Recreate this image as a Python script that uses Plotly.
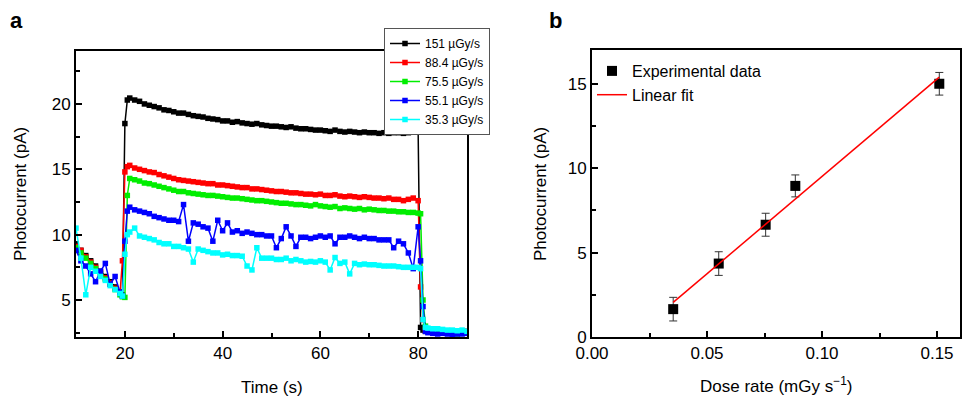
import plotly.graph_objects as go

# ---------------- Panel a data ----------------
time_s = [10, 11, 12, 13, 14, 15, 16, 17, 18, 19, 19.5, 20, 20.5,
          21, 22, 23, 24, 25, 26, 27, 28, 29, 30,
          31, 32, 33, 34, 35, 36, 37, 38, 39, 40,
          41, 42, 43, 44, 45, 46, 47, 48, 49, 50,
          51, 52, 53, 54, 55, 56, 57, 58, 59, 60,
          61, 62, 63, 64, 65, 66, 67, 68, 69, 70,
          71, 72, 73, 74, 75, 76, 77, 78, 79, 80,
          80.5, 81, 81.5, 82, 83, 84, 85, 86, 87, 88, 89, 90]

i_151 = [9.3, 8.8, 8.4, 8.0, 7.6, 7.2, 6.8, 6.4, 6.0, 5.6, 5.4, 18.5, 20.3,
         20.45, 20.3, 20.2, 20.0, 19.9, 19.8, 19.7, 19.55, 19.5, 19.4,
         19.3, 19.3, 19.2, 19.1, 19.05, 19.0, 18.9, 18.85, 18.8, 18.7,
         18.7, 18.6, 18.65, 18.55, 18.5, 18.45, 18.5, 18.4, 18.35, 18.3,
         18.3, 18.25, 18.2, 18.25, 18.15, 18.1, 18.1, 18.05, 18.0, 18.0,
         17.95, 17.9, 18.0, 17.9, 17.85, 17.9, 17.85, 17.8, 17.85, 17.8,
         17.8, 17.75, 17.8, 17.75, 17.8, 17.8, 17.75, 17.8, 17.85, 18.0,
         2.9, 2.7, 2.6, 2.6, 2.55, 2.6, 2.5, 2.55, 2.6, 2.5, 2.55, 2.6]

i_88 = [9.1, 8.8, 8.3, 7.9, 7.5, 7.1, 6.7, 6.3, 5.9, 5.5, 8.0, 14.8, 15.2,
        15.3, 15.1, 15.0, 14.9, 14.8, 14.75, 14.6, 14.5, 14.4, 14.3,
        14.2, 14.15, 14.1, 14.05, 14.0, 13.95, 13.9, 13.9, 13.8, 13.8,
        13.75, 13.7, 13.65, 13.6, 13.6, 13.5, 13.5, 13.45, 13.4, 13.35,
        13.3, 13.3, 13.25, 13.2, 13.2, 13.15, 13.1, 13.1, 13.05, 13.1,
        13.0, 13.0, 13.05, 12.95, 12.9, 12.95, 12.9, 12.85, 12.9, 12.85,
        12.8, 12.8, 12.75, 12.8, 12.7, 12.7, 12.6, 12.7, 12.8, 12.6,
        6.0, 3.5, 2.7, 2.6, 2.5, 2.55, 2.5, 2.45, 2.5, 2.55, 2.5, 2.5]

i_75 = [9.0, 8.6, 8.2, 7.8, 7.4, 7.0, 6.6, 6.2, 5.8, 5.4, 5.25, 5.2, 13.0,
        14.3, 14.2, 14.1, 13.95, 13.9, 13.8, 13.7, 13.6, 13.5, 13.4,
        13.3, 13.3, 13.2, 13.15, 13.1, 13.05, 13.0, 13.0, 12.95, 12.9,
        12.85, 12.8, 12.8, 12.75, 12.7, 12.65, 12.6, 12.6, 12.55, 12.5,
        12.45, 12.4, 12.4, 12.35, 12.3, 12.3, 12.25, 12.2, 12.3, 12.2,
        12.15, 12.1, 12.15, 12.0, 12.05, 12.0, 11.95, 12.0, 11.9, 11.95,
        11.9, 11.85, 11.85, 11.8, 11.8, 11.75, 11.75, 11.7, 11.7, 11.65,
        11.6, 5.0, 3.0, 2.7, 2.6, 2.55, 2.5, 2.45, 2.5, 2.4, 2.45, 2.5]

i_55 = [8.8, 8.0, 7.6, 7.0, 6.4, 7.2, 7.8, 6.2, 6.8, 5.6, 5.3, 9.5, 11.8,
        12.1, 11.9, 11.8, 11.7, 11.6, 11.4, 11.3, 11.2, 11.1, 11.1,
        11.0, 12.3, 9.5, 10.9, 10.8, 10.6, 10.5, 9.5, 11.1, 10.3,
        10.9, 10.2, 10.3, 10.1, 10.2, 10.1, 10.0, 10.0, 9.9, 9.9,
        9.0, 9.7, 10.6, 9.9, 9.1, 9.8, 9.8, 9.7, 9.8, 9.9,
        9.8, 9.9, 9.3, 9.8, 9.8, 9.9, 9.8, 9.7, 9.8, 9.7,
        9.7, 9.6, 9.6, 9.6, 9.0, 9.5, 9.3, 8.6, 7.4, 10.6,
        8.0, 4.5, 2.6, 2.5, 2.45, 2.4, 2.45, 2.4, 2.35, 2.4, 2.4, 2.45]

i_35 = [10.5, 8.2, 5.4, 7.5, 7.2, 6.8, 6.5, 6.1, 5.8, 5.5, 5.3, 8.5, 10.0,
        10.2, 10.5, 9.9, 9.8, 9.7, 9.6, 9.4, 9.3, 9.3, 9.1,
        9.1, 9.0, 8.9, 7.9, 8.9, 8.8, 8.7, 8.6, 8.6, 8.45,
        8.5, 8.4, 8.4, 8.35, 7.6, 7.3, 9.0, 8.2, 8.2, 8.2,
        8.1, 8.1, 8.2, 8.0, 8.1, 8.0, 7.9, 7.95, 7.9, 8.0,
        7.9, 7.3, 8.25, 7.8, 7.9, 7.0, 7.8, 7.7, 7.75, 7.7,
        7.7, 7.65, 7.6, 7.6, 7.6, 7.55, 7.5, 7.5, 7.5, 7.5,
        7.4, 3.5, 2.9, 2.85, 2.8, 2.8, 2.75, 2.7, 2.7, 2.65, 2.7, 2.6]

series_names = ["151 µGy/s", "88.4 µGy/s", "75.5 µGy/s", "55.1 µGy/s", "35.3 µGy/s"]
series_values = [i_151, i_88, i_75, i_55, i_35]
series_colors = ["#000000", "#ff0000", "#00ee00", "#0000ff", "#00ffff"]

# ---------------- Panel b data ----------------
dose_rate = [0.0353, 0.0551, 0.0755, 0.0884, 0.151]
photocurrent = [1.65, 4.35, 6.65, 8.95, 15.0]
photocurrent_err = [0.7, 0.7, 0.68, 0.65, 0.67]
fit_x = [0.0353, 0.151]
fit_y = [2.05, 15.39]

FONT = "Liberation Sans, Arial, Helvetica, sans-serif"

# page body has an 8px margin; figure sized to fit the 974x401 window
OFF = 8
W, H = 974 - OFF, 401 - OFF


def px(x):
    return (x - OFF) / W


def py(y):
    return 1 - (y - OFF) / H


fig = go.Figure()

for name, vals, col in zip(series_names, series_values, series_colors):
    fig.add_trace(go.Scatter(
        x=time_s, y=vals, name=name, mode="lines+markers",
        line=dict(color=col, width=1.5),
        marker=dict(symbol="square", size=5.5, color=col),
        xaxis="x", yaxis="y", legend="legend"))

fig.add_trace(go.Scatter(
    x=dose_rate, y=photocurrent, name="Experimental data", mode="markers",
    marker=dict(symbol="square", size=10, color="black"),
    error_y=dict(type="data", array=photocurrent_err, color="#333333",
                 thickness=1, width=4),
    xaxis="x2", yaxis="y2", legend="legend2"))
fig.add_trace(go.Scatter(
    x=fit_x, y=fit_y, name="Linear fit", mode="lines",
    line=dict(color="#ff0000", width=1.5),
    xaxis="x2", yaxis="y2", legend="legend2"))

axis_common = dict(showline=True, linewidth=2, linecolor="black", mirror=True,
                   ticks="inside", ticklen=6, tickwidth=2, tickcolor="black",
                   showgrid=False, zeroline=False, automargin=False,
                   tickfont=dict(family=FONT, size=17, color="black"))
minor_common = dict(ticks="inside", ticklen=4, tickwidth=2, tickcolor="black")

fig.update_layout(
    width=W, height=H,
    margin=dict(l=0, r=0, t=0, b=0),
    paper_bgcolor="white", plot_bgcolor="white",
    font=dict(family=FONT, color="black"),
    xaxis=dict(domain=[px(76), px(467)], range=[10, 90], tick0=0, dtick=20,
               minor=dict(dtick=10, **minor_common), anchor="y", **axis_common),
    yaxis=dict(domain=[py(337), py(51)], range=[2.17, 24.05], tick0=0, dtick=5,
               minor=dict(dtick=2.5, **minor_common), anchor="x", **axis_common),
    xaxis2=dict(domain=[px(592), px(960)], range=[0, 0.16], tick0=0, dtick=0.05,
                tickformat=".2f", minor=dict(dtick=0.025, **minor_common),
                anchor="y2", **axis_common),
    yaxis2=dict(domain=[py(337), py(50)], range=[0, 17], tick0=0, dtick=5,
                minor=dict(dtick=2.5, **minor_common), anchor="x2", **axis_common),
    legend=dict(x=px(384), y=py(28), xanchor="left", yanchor="top",
                bgcolor="white", bordercolor="#555555", borderwidth=1,
                font=dict(family=FONT, size=12, color="black"),
                tracegroupgap=0, itemwidth=30),
    legend2=dict(x=px(592), y=py(54), xanchor="left", yanchor="top",
                 bgcolor="rgba(0,0,0,0)", borderwidth=0,
                 font=dict(family=FONT, size=16, color="black"),
                 itemwidth=30),
    showlegend=True,
)

annots = [
    ("<b>a</b>", 8, 20, 22, 0, "left"),
    ("<b>b</b>", 547, 20, 22, 0, "left"),
    ("Photocurrent (pA)", 20, 194, 17, -90, "center"),
    ("Time (s)", 272, 387, 17, 0, "center"),
    ("Photocurrent (pA)", 540, 194, 17, -90, "center"),
    ("Dose rate (mGy s<sup>−1</sup>)", 776, 385, 17, 0, "center"),
]
for text, x, y, size, angle, xa in annots:
    fig.add_annotation(text=text, x=px(x), y=py(y),
                       xref="paper", yref="paper", showarrow=False,
                       xanchor=xa, yanchor="middle", textangle=angle,
                       font=dict(family=FONT, color="black", size=size))

fig.write_html("out.html")
